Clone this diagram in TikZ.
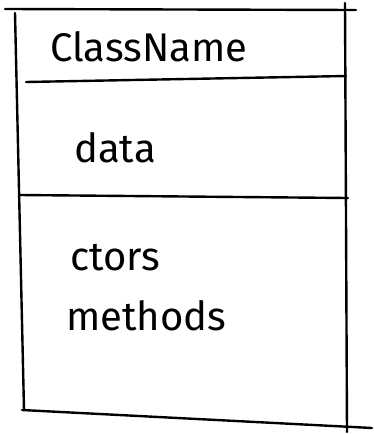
\documentclass[tikz,border=0pt]{standalone}
\usepackage{fontspec}
\setmainfont{Fira Sans}
\usetikzlibrary{positioning}
\tikzset{
    stroke/.style = {line width=2.4pt, line cap=round, line join=round},
    label/.style = {inner sep=0pt, anchor=west, font=\fontsize{40}{44}\selectfont}
}

\begin{document}
\begin{tikzpicture}[x=1pt,y=-1pt]

    \useasboundingbox (0,0) rectangle (373,434);

    % corners of the class box
    \coordinate (topL) at (5,9);
    \coordinate (topR) at (356,10);
    \coordinate (leftT) at (15,13);
    \coordinate (leftB) at (24,410);
    \coordinate (rightT) at (345,3);
    \coordinate (rightB) at (347,432);
    \coordinate (botL) at (22,410);
    \coordinate (botR) at (372,428);

    % compartment dividers
    \coordinate (divA) at (26,82);
    \coordinate (divAe) at (346,76);
    \coordinate (divB) at (20,195);
    \coordinate (divBe) at (348,198);

    % labels
    \node[label] (name) at (50,47) {ClassName};
    \node[label] (data) at (74,148) {data};
    \node[label] (ctors) at (70,258) {ctors};
    \node[label] (meth) at (66,316) {methods};

    % outline
    \draw[stroke] (topL) -- (topR);
    \draw[stroke] (leftT) -- (leftB);
    \draw[stroke] (rightT) -- (rightB);
    \draw[stroke] (botL) -- (botR);
    \draw[stroke] (divA) -- (divAe);
    \draw[stroke] (divB) -- (divBe);

\end{tikzpicture}
\end{document}
